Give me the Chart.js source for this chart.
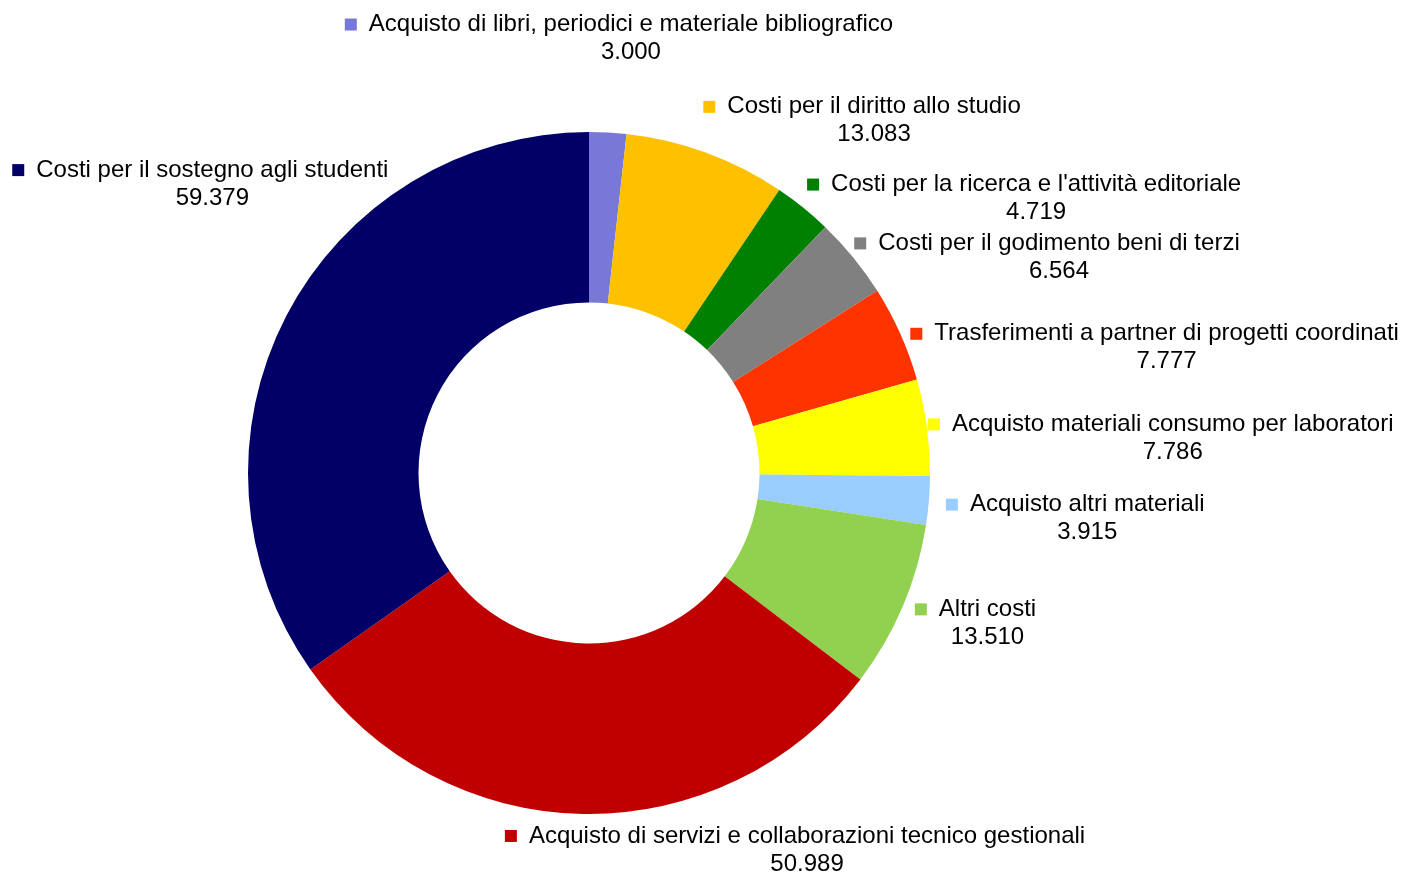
<!DOCTYPE html>
<html>
<head>
<meta charset="utf-8">
<script src="https://cdn.jsdelivr.net/npm/chart.js@4"></script>
<style>
  html, body { margin: 0; padding: 0; background: #ffffff; }
  #wrap { width: 1402px; height: 875px; }
</style>
</head>
<body>
<div id="wrap"><canvas id="c" width="1402" height="875"></canvas></div>
<script>
// ---- data ----
const categories = [
  "Acquisto di libri, periodici e materiale bibliografico",
  "Costi per il diritto allo studio",
  "Costi per la ricerca e l'attività editoriale",
  "Costi per il godimento beni di terzi",
  "Trasferimenti a partner di progetti coordinati",
  "Acquisto materiali consumo per laboratori",
  "Acquisto altri materiali",
  "Altri costi",
  "Acquisto di servizi e collaborazioni tecnico gestionali",
  "Costi per il sostegno agli studenti"
];
const values = [3000, 13083, 4719, 6564, 7777, 7786, 3915, 13510, 50989, 59379];
const colors = [
  "#7878D6", "#FFC000", "#008000", "#808080", "#FF3300",
  "#FFFF00", "#99CCFF", "#92D050", "#C00000", "#000066"
];
// label placement: offset of each label block from the outer edge midpoint of its slice
const labelOffsets = [
  [-263, -108], [-3, -46], [4, -23], [1, -14], [10, 0],
  [1, -3], [17, 4], [12, 3], [-78, 22], [-274, -146]
];

function fmtIt(v) {
  return String(v).replace(/\B(?=(\d{3})+(?!\d))/g, '.');
}

const FONT = '24px "Liberation Sans", Arial, sans-serif';

const labelPlugin = {
  id: 'outsideLabels',
  afterDatasetsDraw(chart) {
    const ctx = chart.ctx;
    const meta = chart.getDatasetMeta(0);
    ctx.save();
    ctx.font = FONT;
    ctx.textBaseline = 'middle';
    meta.data.forEach((arc, i) => {
      const p = arc.getProps(['x', 'y', 'startAngle', 'endAngle', 'outerRadius'], true);
      const mid = (p.startAngle + p.endAngle) / 2;
      const ex = p.x + Math.cos(mid) * p.outerRadius;
      const ey = p.y + Math.sin(mid) * p.outerRadius;
      const ax = ex + labelOffsets[i][0];
      const ay = ey + labelOffsets[i][1];
      // marker
      ctx.fillStyle = colors[i];
      ctx.fillRect(ax, ay - 6, 12, 12);
      // text
      ctx.fillStyle = '#000000';
      ctx.textAlign = 'left';
      const tx = ax + 24;
      ctx.fillText(categories[i], tx, ay);
      const w = ctx.measureText(categories[i]).width;
      ctx.textAlign = 'center';
      ctx.fillText(fmtIt(values[i]), tx + w / 2, ay + 28);
    });
    ctx.restore();
  }
};

new Chart(document.getElementById('c'), {
  type: 'doughnut',
  data: {
    labels: categories,
    datasets: [{
      data: values,
      backgroundColor: colors,
      borderWidth: 0,
      hoverOffset: 0,
      offset: 0
    }]
  },
  options: {
    responsive: false,
    animation: false,
    events: [],
    cutout: '50%',
    layout: { padding: { left: 248, right: 472, top: 132, bottom: 61 } },
    plugins: {
      legend: { display: false },
      tooltip: { enabled: false }
    }
  },
  plugins: [labelPlugin]
});
</script>
</body>
</html>
